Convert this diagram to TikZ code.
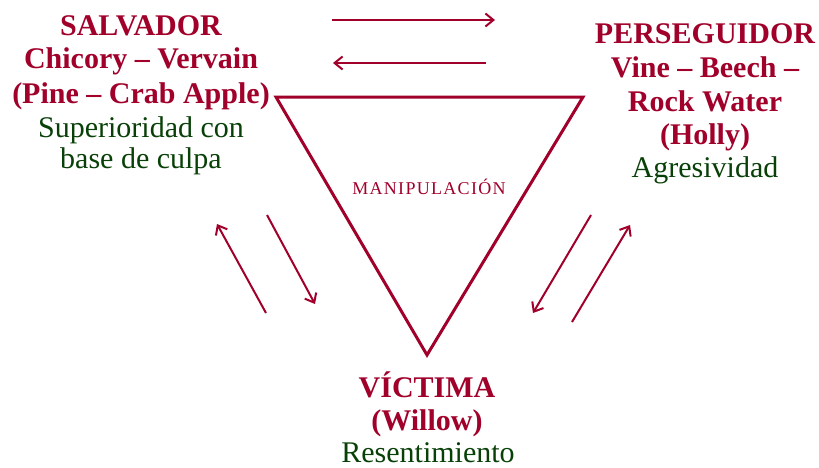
\documentclass[tikz,border=0pt]{standalone}
\usepackage{fontspec}
\setmainfont{Liberation Serif}
\newfontfamily\tmsfont{Liberation Serif}
\usetikzlibrary{arrows.meta}
\definecolor{dred}{RGB}{160,0,42}
\definecolor{dgreen}{RGB}{8,64,8}
\tikzset{
  hd/.style={anchor=base, text=dred, inner sep=0pt, font=\tmsfont\fontsize{30}{34}\selectfont\bfseries},
  gr/.style={anchor=base, text=dgreen, inner sep=0pt, font=\tmsfont\fontsize{30}{34}\selectfont},
  tri/.style={draw=dred, line width=3pt, line join=miter},
  arr/.style={draw=dred, line width=2pt, -{Straight Barb[length=8pt,width=13pt,line width=2pt]}}
}
\begin{document}
\begin{tikzpicture}[x=1pt,y=-1pt]
\useasboundingbox (0,0) rectangle (819,467);
% triangle
\coordinate (tl) at (276,97);
\coordinate (tr) at (583,97);
\coordinate (bt) at (427,355);
\draw[tri] (tl) -- (tr) -- (bt) -- cycle;
\node[anchor=base, text=dred, inner sep=0pt, font=\tmsfont\fontsize{18}{20}\selectfont] (manip) at (429,194) {M\kern1.3pt A\kern1.3pt N\kern1.3pt I\kern1.3pt P\kern1.3pt U\kern1.3pt L\kern1.3pt A\kern1.3pt C\kern1.3pt I\kern1.3pt Ó\kern1.3pt N};
% top arrows
\coordinate (a1s) at (332,20); \coordinate (a1e) at (495,20);
\coordinate (a2s) at (486,63); \coordinate (a2e) at (333,63);
\draw[arr] (a1s) -- (a1e);
\draw[arr] (a2s) -- (a2e);
% left arrows
\coordinate (l1s) at (266,313); \coordinate (l1e) at (217,224);
\coordinate (l2s) at (267,215); \coordinate (l2e) at (315,304);
\draw[arr] (l1s) -- (l1e);
\draw[arr] (l2s) -- (l2e);
% right arrows
\coordinate (r1s) at (591,215); \coordinate (r1e) at (533,313);
\coordinate (r2s) at (572,322); \coordinate (r2e) at (630,225);
\draw[arr] (r1s) -- (r1e);
\draw[arr] (r2s) -- (r2e);
% left block
\node[hd] (s1) at (141,35) {SALVADOR};
\node[hd] (s2) at (141,68) {Chicory – Vervain};
\node[hd] (s3) at (141,103) {(Pine – Crab Apple)};
\node[gr] (s4) at (141,137) {Superioridad con};
\node[gr] (s5) at (141,168) {base de culpa};
% right block
\node[hd] (p1) at (705,43) {PERSEGUIDOR};
\node[hd] (p2) at (705,77) {Vine – Beech –};
\node[hd] (p3) at (705,111) {Rock Water};
\node[hd] (p4) at (705,144) {(Holly)};
\node[gr] (p5) at (705,177) {Agresividad};
% bottom block
\node[hd] (v1) at (427,397) {VÍCTIMA};
\node[hd] (v2) at (427,430) {(Willow)};
\node[gr] (v3) at (428,462) {Resentimiento};
\end{tikzpicture}
\end{document}
